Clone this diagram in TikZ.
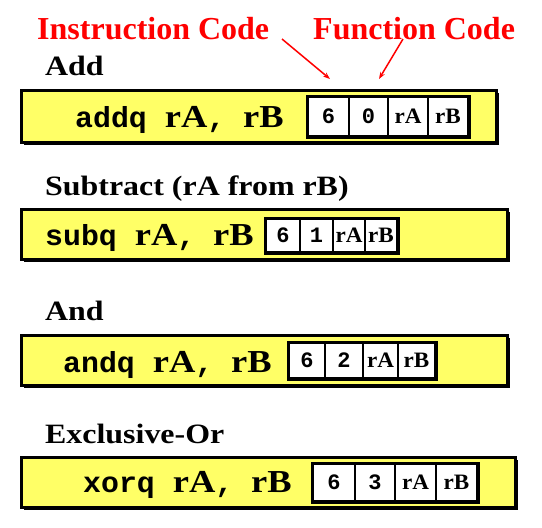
\documentclass[tikz,border=0pt]{standalone}
\usepackage{fontspec}
\usetikzlibrary{arrows.meta}
\newfontfamily\serb[FakeStretch=1.14]{Liberation Serif}
\newfontfamily\serr{Liberation Serif}
\newfontfamily\monob[FakeStretch=1.03]{Liberation Mono}
\newfontfamily\cellser[FakeStretch=1.05]{Liberation Serif}
\newfontfamily\cellmono{Liberation Mono}
\definecolor{barfill}{HTML}{FFFF66}
\definecolor{labred}{HTML}{FF0000}
\newcommand\mtx[1]{{\monob\bfseries\fontsize{29}{30}\selectfont #1}}
\newcommand\rgx[1]{{\serb\bfseries\fontsize{32}{34}\selectfont #1}}
\newcommand\dgx[1]{{\cellmono\bfseries\fontsize{22}{24}\selectfont #1}}
\newcommand\crx[1]{{\cellser\bfseries\fontsize{22}{24}\selectfont #1}}
\newcommand\opline[1]{\mtx{#1\ }\rgx{rA}\mtx{,\ }\rgx{rB}}
\tikzset{
  heading/.style={anchor=base west, inner sep=0pt, font=\serb\bfseries\fontsize{28}{30}\selectfont},
  redlabel/.style={anchor=base west, inner sep=0pt, text=labred, font=\serr\bfseries\fontsize{32}{34}\selectfont},
  instr/.style={anchor=base west, inner sep=0pt},
  bar/.style={draw=black, line width=3pt, fill=barfill},
  shadowbar/.style={fill=black},
  cellbox/.style={draw=black, line width=2pt, fill=white, inner sep=0pt},
  outerbox/.style={draw=black, line width=3pt},
  redarrow/.style={draw=labred, line width=1.5pt, -{Stealth[length=7pt,width=5pt]}}
}
\begin{document}
\begin{tikzpicture}[x=1pt,y=-1pt]
\useasboundingbox (0,0) rectangle (542,528);
% labels
\node[redlabel] (ilab) at (37,39) {Instruction Code};
\node[redlabel] (flab) at (313,39) {Function Code};
\coordinate (is) at (282,39);
\coordinate (ie) at (330,79);
\coordinate (fs) at (403,39);
\coordinate (fe) at (379,79);
\draw[redarrow] (is) -- (ie);
\draw[redarrow] (fs) -- (fe);

% ---- Add
\node[heading] (h1) at (45,75) {Add};
\fill[shadowbar] (24,93) rectangle (499,145);
\draw[bar] (21,90) rectangle (496,142);
\node[instr] (t1) at (75,127) {\opline{addq}};
\node[cellbox, minimum width=41pt, minimum height=39pt] (a1) at (328.5,116.5) {\dgx{6}};
\node[cellbox, minimum width=39pt, minimum height=39pt] (a2) at (368.5,116.5) {\dgx{0}};
\node[cellbox, minimum width=40pt, minimum height=39pt] (a3) at (408,116.5) {\crx{rA}};
\node[cellbox, minimum width=40pt, minimum height=39pt] (a4) at (448,116.5) {\crx{rB}};
\draw[outerbox] (a1.north west) rectangle (a4.south east);

% ---- Subtract
\node[heading] (h2) at (45,195) {Subtract (rA from rB)};
\fill[shadowbar] (24,212) rectangle (510,262);
\draw[bar] (21,209) rectangle (507,259);
\node[instr] (t2) at (45,245) {\opline{subq}};
\node[cellbox, minimum width=34pt, minimum height=33pt] (b1) at (283,235.5) {\dgx{6}};
\node[cellbox, minimum width=33pt, minimum height=33pt] (b2) at (316.5,235.5) {\dgx{1}};
\node[cellbox, minimum width=32pt, minimum height=33pt] (b3) at (349,235.5) {\crx{rA}};
\node[cellbox, minimum width=32pt, minimum height=33pt] (b4) at (381,235.5) {\crx{rB}};
\draw[outerbox] (b1.north west) rectangle (b4.south east);

% ---- And
\node[heading] (h3) at (45,320) {And};
\fill[shadowbar] (24,338) rectangle (510,388);
\draw[bar] (21,335) rectangle (507,385);
\node[instr] (t3) at (63,372) {\opline{andq}};
\node[cellbox, minimum width=36pt, minimum height=35pt] (c1) at (307,360.5) {\dgx{6}};
\node[cellbox, minimum width=38pt, minimum height=35pt] (c2) at (344,360.5) {\dgx{2}};
\node[cellbox, minimum width=35pt, minimum height=35pt] (c3) at (380.5,360.5) {\crx{rA}};
\node[cellbox, minimum width=37pt, minimum height=35pt] (c4) at (416.5,360.5) {\crx{rB}};
\draw[outerbox] (c1.north west) rectangle (c4.south east);

% ---- Exclusive-Or
\node[heading] (h4) at (45,443) {Exclusive-Or};
\fill[shadowbar] (24,460) rectangle (518,510);
\draw[bar] (21,457) rectangle (515,507);
\node[instr] (t4) at (83,492) {\opline{xorq}};
\node[cellbox, minimum width=42pt, minimum height=37pt] (d1) at (334,482.5) {\dgx{6}};
\node[cellbox, minimum width=40pt, minimum height=37pt] (d2) at (375,482.5) {\dgx{3}};
\node[cellbox, minimum width=41pt, minimum height=37pt] (d3) at (415.5,482.5) {\crx{rA}};
\node[cellbox, minimum width=41pt, minimum height=37pt] (d4) at (456.5,482.5) {\crx{rB}};
\draw[outerbox] (d1.north west) rectangle (d4.south east);
\end{tikzpicture}
\end{document}
